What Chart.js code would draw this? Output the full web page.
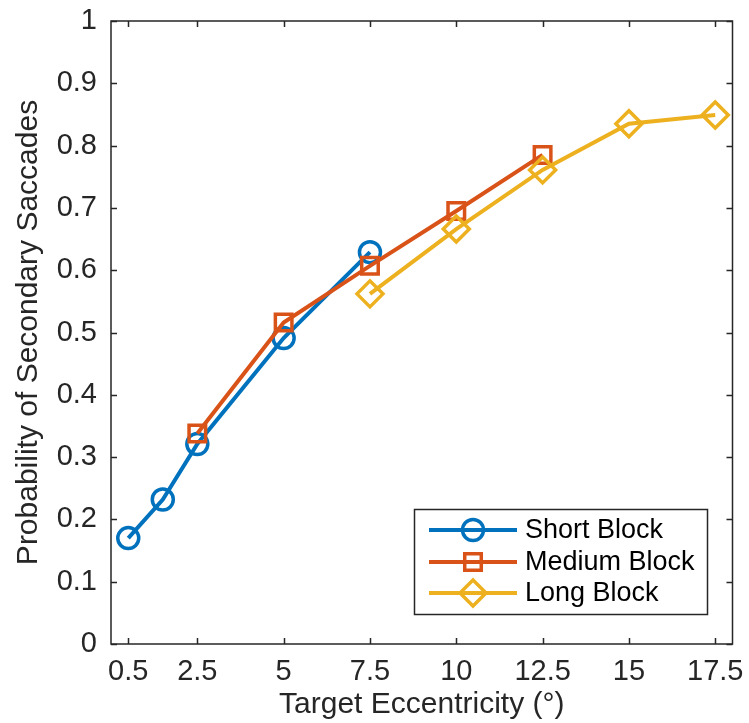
<!DOCTYPE html>
<html>
<head>
<meta charset="utf-8">
<script src="https://cdn.jsdelivr.net/npm/chart.js"></script>
<style>
  html, body { margin: 0; padding: 0; background: #fff; }
</style>
</head>
<body>
<canvas id="chart" width="749" height="723"></canvas>
<script>
// data
const seriesNames = ['Short Block', 'Medium Block', 'Long Block'];
const shortX = [0.5, 1.5, 2.5, 5, 7.5];
const shortY = [0.170, 0.232, 0.321, 0.491, 0.629];
const mediumX = [2.5, 5, 7.5, 10, 12.5];
const mediumY = [0.338, 0.516, 0.607, 0.695, 0.785];
const longX = [7.5, 10, 12.5, 15, 17.5];
const longY = [0.562, 0.666, 0.761, 0.835, 0.849];
const xTicks = [0.5, 2.5, 5, 7.5, 10, 12.5, 15, 17.5];
const yTicks = [0, 0.1, 0.2, 0.3, 0.4, 0.5, 0.6, 0.7, 0.8, 0.9, 1];

const colors = ['#0072BD', '#D95319', '#EDB120'];
const markers = ['circle', 'rect', 'rectRot'];
const markerSize = [10.5, 11.7, 13];
const axisColor = '#262626';
const fontFamily = '"Liberation Sans", Arial, Helvetica, sans-serif';

function pts(xs, ys) {
    return xs.map((x, i) => ({ x: x, y: ys[i] }));
}

// box round the plot with inward ticks on all four sides
const frame = {
    id: 'frame',
    beforeDatasetsDraw(chart) {
        const ctx = chart.ctx;
        const a = chart.chartArea;
        const xs = chart.scales.x, ys = chart.scales.y;
        const len = 6;
        ctx.save();
        ctx.strokeStyle = axisColor;
        ctx.lineWidth = 1.5;
        ctx.strokeRect(a.left, a.top, a.right - a.left, a.bottom - a.top);
        ctx.beginPath();
        xTicks.forEach(v => {
            const px = Math.round(xs.getPixelForValue(v)) + 0.5;
            ctx.moveTo(px, a.bottom); ctx.lineTo(px, a.bottom - len);
            ctx.moveTo(px, a.top); ctx.lineTo(px, a.top + len);
        });
        yTicks.forEach(v => {
            const py = Math.round(ys.getPixelForValue(v)) + 0.5;
            ctx.moveTo(a.left, py); ctx.lineTo(a.left + len, py);
            ctx.moveTo(a.right, py); ctx.lineTo(a.right - len, py);
        });
        ctx.stroke();
        ctx.restore();
    }
};

function drawMarker(ctx, style, r, x, y) {
    ctx.beginPath();
    if (style === 'circle') {
        ctx.arc(x, y, r, 0, Math.PI * 2);
    } else if (style === 'rect') {
        const s = r * Math.SQRT1_2;
        ctx.rect(x - s, y - s, 2 * s, 2 * s);
    } else {
        ctx.moveTo(x, y - r); ctx.lineTo(x + r, y);
        ctx.lineTo(x, y + r); ctx.lineTo(x - r, y);
        ctx.closePath();
    }
    ctx.stroke();
}

// legend box in the lower right of the plot
const boxLegend = {
    id: 'boxLegend',
    afterDraw(chart) {
        const ctx = chart.ctx;
        const left = 414, top = 509, w = 293, h = 105;
        const rows = [530, 562, 593];
        ctx.save();
        ctx.fillStyle = '#fff';
        ctx.fillRect(left, top, w, h);
        ctx.strokeStyle = axisColor;
        ctx.lineWidth = 1.5;
        ctx.strokeRect(left + 0.5, top + 0.5, w, h);
        chart.data.datasets.forEach((ds, i) => {
            const y = rows[i];
            ctx.strokeStyle = ds.borderColor;
            ctx.lineWidth = ds.borderWidth;
            ctx.beginPath();
            ctx.moveTo(429, y); ctx.lineTo(517, y);
            ctx.stroke();
            ctx.lineWidth = ds.pointBorderWidth;
            drawMarker(ctx, ds.pointStyle, ds.pointRadius, 473, y);
            ctx.fillStyle = '#000';
            ctx.font = '27px ' + fontFamily;
            ctx.textBaseline = 'middle';
            ctx.textAlign = 'left';
            ctx.fillText(ds.label, 525, y + 1);
        });
        ctx.restore();
    }
};

const series = [pts(shortX, shortY), pts(mediumX, mediumY), pts(longX, longY)];

new Chart(document.getElementById('chart'), {
    type: 'line',
    data: {
        datasets: series.map((data, i) => ({
            label: seriesNames[i],
            data: data,
            borderColor: colors[i],
            borderWidth: 4,
            pointStyle: markers[i],
            pointRadius: markerSize[i],
            pointBorderWidth: 3.5,
            pointBorderColor: colors[i],
            pointBackgroundColor: 'rgba(0,0,0,0)',
            tension: 0,
            fill: false,
            order: 3 - i
        }))
    },
    options: {
        responsive: false,
        animation: false,
        clip: false,
        layout: { padding: { top: 21, right: 14, left: 0, bottom: 0 } },
        plugins: {
            legend: { display: false },
            tooltip: { enabled: false }
        },
        scales: {
            x: {
                type: 'linear',
                min: 0,
                max: 18,
                afterBuildTicks: s => { s.ticks = xTicks.map(v => ({ value: v })); },
                afterFit: s => {
                    s.height = 79;
                    s.paddingLeft = 0;
                    s.paddingRight = 0;
                },
                grid: { display: false, drawTicks: false },
                border: { display: false },
                ticks: {
                    color: axisColor,
                    padding: 11,
                    maxRotation: 0,
                    autoSkip: false,
                    font: { family: fontFamily, size: 29 },
                    callback: v => String(v)
                },
                title: {
                    display: true,
                    text: 'Target Eccentricity (°)',
                    color: axisColor,
                    padding: { top: 0, bottom: 0 },
                    font: { family: fontFamily, size: 30 }
                }
            },
            y: {
                type: 'linear',
                min: 0,
                max: 1,
                afterBuildTicks: s => { s.ticks = yTicks.map(v => ({ value: v })); },
                afterFit: s => {
                    s.width = 111;
                    s.paddingTop = 0;
                    s.paddingBottom = 0;
                },
                grid: { display: false, drawTicks: false },
                border: { display: false },
                ticks: {
                    color: axisColor,
                    padding: 14,
                    autoSkip: false,
                    font: { family: fontFamily, size: 29 },
                    callback: v => String(v)
                },
                title: {
                    display: true,
                    text: 'Probability of Secondary Saccades',
                    color: axisColor,
                    padding: { top: 11, bottom: 0 },
                    font: { family: fontFamily, size: 30 }
                }
            }
        }
    },
    plugins: [frame, boxLegend]
});
</script>
</body>
</html>
